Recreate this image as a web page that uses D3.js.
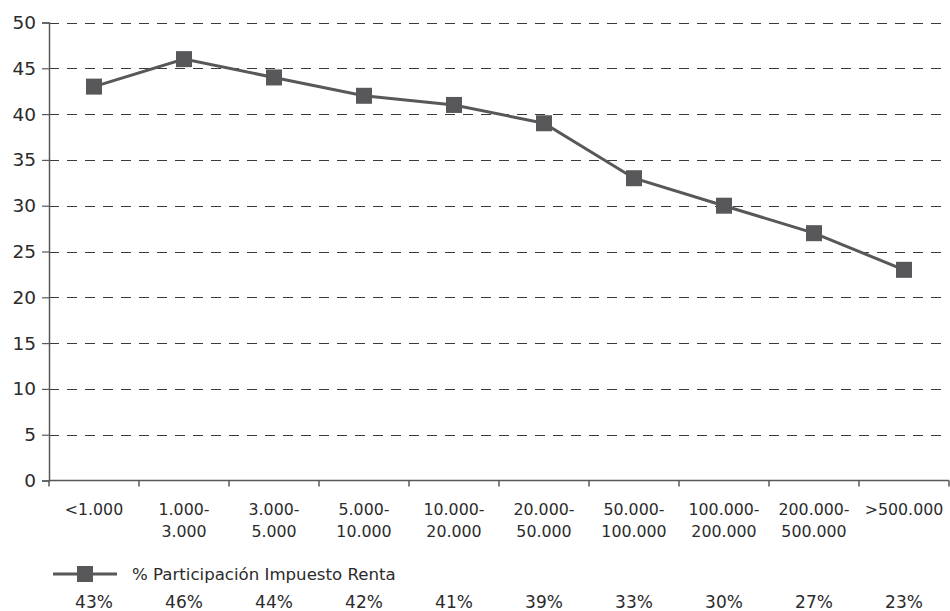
<!DOCTYPE html>
<html>
<head>
<meta charset="utf-8">
<script src="https://cdn.jsdelivr.net/npm/d3@7"></script>
<style>
  html, body { margin: 0; padding: 0; background: #fff; }
  svg { display: block; font-family: "DejaVu Sans", sans-serif; }
</style>
</head>
<body>
<svg id="chart" width="950" height="611"></svg>
<script>
// Income brackets (two-line labels) and share of income tax, in %
const categories = [
  ["<1.000"], ["1.000-", "3.000"], ["3.000-", "5.000"], ["5.000-", "10.000"],
  ["10.000-", "20.000"], ["20.000-", "50.000"], ["50.000-", "100.000"],
  ["100.000-", "200.000"], ["200.000-", "500.000"], [">500.000"]
];
const values = [43, 46, 44, 42, 41, 39, 33, 30, 27, 23];
const yTicks = [0, 5, 10, 15, 20, 25, 30, 35, 40, 45, 50];
const seriesName = "% Participación Impuesto Renta";

(function () {
  const ink = "#58585a";
  const textColor = "#2b2b2b";
  const font = "'DejaVu Sans', sans-serif";

  const svg = d3.select("#chart");
  const plotLeft = 49, plotRight = 949, plotTop = 22.5, plotBottom = 480.5;

  const x = d3.scaleBand().domain(d3.range(categories.length)).range([plotLeft, plotRight]).padding(0);
  const y = d3.scaleLinear().domain([0, 50]).range([plotBottom, plotTop]);

  // Dashed horizontal gridlines
  svg.append("g").selectAll("line")
    .data(yTicks.filter(d => d > 0))
    .join("line")
    .attr("x1", plotLeft).attr("x2", plotRight)
    .attr("y1", d => Math.round(y(d)) + 0.5).attr("y2", d => Math.round(y(d)) + 0.5)
    .attr("stroke", "#3a3a3a").attr("stroke-width", 1.2)
    .attr("stroke-dasharray", "10,8");

  // Y axis
  const yAxis = svg.append("g")
    .attr("transform", `translate(${plotLeft},0)`)
    .call(d3.axisLeft(y).tickValues(yTicks).tickSize(7).tickPadding(6));
  yAxis.select(".domain").attr("stroke", ink).attr("stroke-width", 1.5);
  yAxis.selectAll(".tick line").attr("stroke", ink).attr("stroke-width", 1.2);
  yAxis.selectAll(".tick text")
    .attr("fill", textColor).style("font-size", "18.5px")
    .style("font-family", font);

  // X axis with ticks at band boundaries
  const xAxis = svg.append("g").attr("transform", `translate(0,${plotBottom})`);
  xAxis.append("line").attr("x1", plotLeft).attr("x2", plotRight)
    .attr("stroke", ink).attr("stroke-width", 1.5);
  xAxis.selectAll("line.tk")
    .data(d3.range(categories.length + 1))
    .join("line").attr("class", "tk")
    .attr("x1", i => plotLeft + i * x.bandwidth()).attr("x2", i => plotLeft + i * x.bandwidth())
    .attr("y1", 0).attr("y2", 6)
    .attr("stroke", ink).attr("stroke-width", 1.5);

  // Category labels
  const lab = svg.append("g").selectAll("text")
    .data(categories)
    .join("text")
    .attr("text-anchor", "middle")
    .attr("fill", textColor)
    .style("font-size", "15.8px");
  lab.each(function (lines, i) {
    const t = d3.select(this);
    lines.forEach((s, k) => {
      t.append("tspan")
        .attr("x", x(i) + x.bandwidth() / 2)
        .attr("y", 514.5 + k * 22.5)
        .text(s);
    });
  });

  // Series line
  const line = d3.line()
    .x((d, i) => x(i) + x.bandwidth() / 2)
    .y(d => y(d));
  svg.append("path").datum(values)
    .attr("d", line)
    .attr("fill", "none").attr("stroke", ink).attr("stroke-width", 3);

  // Square markers
  const ms = 16;
  svg.append("g").selectAll("rect")
    .data(values)
    .join("rect")
    .attr("x", (d, i) => x(i) + x.bandwidth() / 2 - ms / 2)
    .attr("y", d => y(d) - ms / 2)
    .attr("width", ms).attr("height", ms)
    .attr("fill", ink);

  // Legend
  const lg = svg.append("g").attr("transform", "translate(0,574)");
  lg.append("line").attr("x1", 53).attr("x2", 117).attr("y1", 0).attr("y2", 0)
    .attr("stroke", ink).attr("stroke-width", 3);
  lg.append("rect").attr("x", 85 - ms / 2).attr("y", -ms / 2)
    .attr("width", ms).attr("height", ms).attr("fill", ink);
  lg.append("text").attr("x", 132).attr("y", 6)
    .attr("fill", textColor).style("font-size", "16.6px")
    .text(seriesName);

  // Value row under the legend
  svg.append("g").selectAll("text")
    .data(values)
    .join("text")
    .attr("x", (d, i) => x(i) + x.bandwidth() / 2)
    .attr("y", 607.5)
    .attr("text-anchor", "middle")
    .attr("fill", textColor)
    .style("font-size", "17px")
    .text(d => d + "%");
})();
</script>
</body>
</html>
